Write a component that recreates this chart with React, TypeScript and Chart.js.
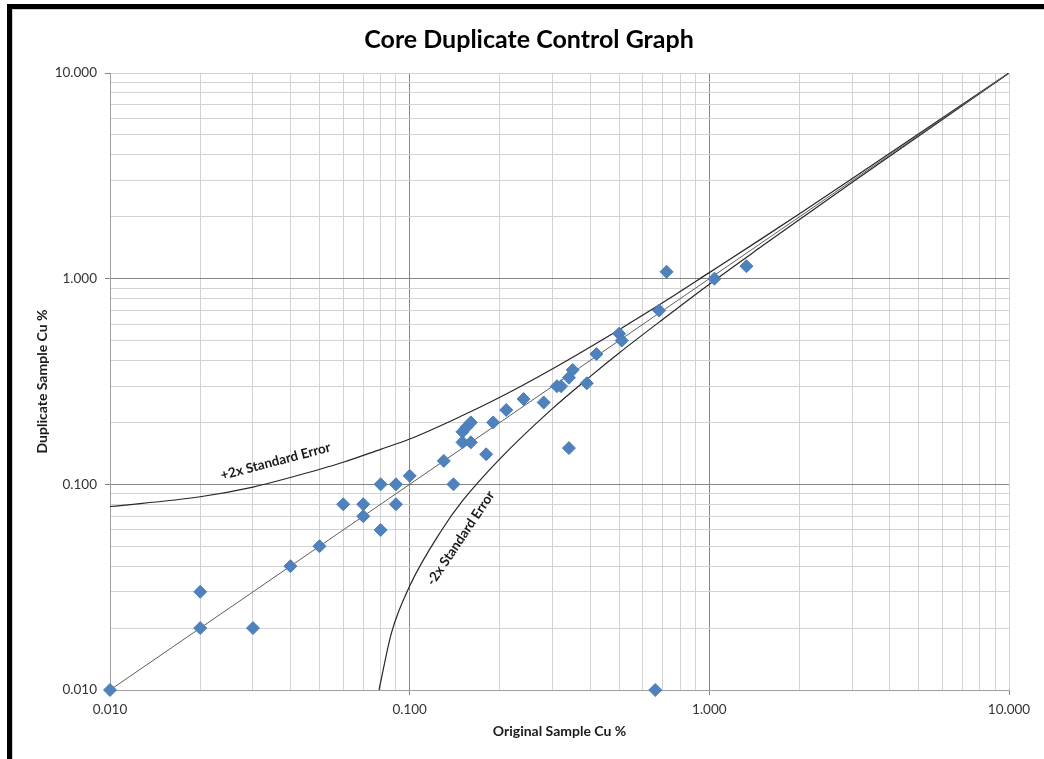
import React, { useEffect, useRef } from "react";
import { Chart, registerables } from "chart.js";

Chart.register(...registerables);

// Scatter data: original vs duplicate Cu %
const originalCu = [0.01, 0.02, 0.02, 0.03, 0.04, 0.05, 0.06, 0.07, 0.07, 0.08, 0.08, 0.09, 0.09, 0.10, 0.13, 0.14, 0.15, 0.155, 0.16, 0.15, 0.16, 0.18, 0.19, 0.21, 0.24, 0.28, 0.31, 0.32, 0.34, 0.35, 0.34, 0.39, 0.42, 0.50, 0.51, 0.68, 0.72, 1.04, 1.33, 0.66];
const duplicateCu = [0.01, 0.03, 0.02, 0.02, 0.04, 0.05, 0.08, 0.08, 0.07, 0.10, 0.06, 0.10, 0.08, 0.11, 0.13, 0.10, 0.18, 0.19, 0.20, 0.16, 0.16, 0.14, 0.20, 0.23, 0.26, 0.25, 0.30, 0.30, 0.33, 0.36, 0.15, 0.31, 0.43, 0.54, 0.50, 0.70, 1.08, 1.00, 1.15, 0.01];

// 1:1 line
const oneToOneX = [0.01, 10];
const oneToOneY = [0.01, 10];

// +2x standard error curve
const upperX = [0.01, 0.02, 0.03, 0.04, 0.06, 0.08, 0.1, 0.15, 0.2, 0.3, 0.5, 0.7, 1.0, 1.5, 2.0, 3.0, 5.0, 10];
const upperY = [0.078, 0.087, 0.097, 0.108, 0.128, 0.148, 0.166, 0.216, 0.265, 0.365, 0.565, 0.765, 1.07, 1.57, 2.07, 3.07, 5.07, 10];

// -2x standard error curve
const lowerX = [0.079, 0.087, 0.1, 0.128, 0.15, 0.2, 0.3, 0.4, 0.5, 0.7, 1.0, 1.5, 2.0, 3.0, 5.0, 10];
const lowerY = [0.01, 0.019, 0.032, 0.06, 0.083, 0.133, 0.234, 0.334, 0.435, 0.635, 0.94, 1.44, 1.94, 2.94, 4.94, 10];

// Grid / tick values (log axis)
const gridValues = [
  0.01, 0.02, 0.03, 0.04, 0.05, 0.06, 0.07, 0.08, 0.09,
  0.1, 0.2, 0.3, 0.4, 0.5, 0.6, 0.7, 0.8, 0.9,
  1, 2, 3, 4, 5, 6, 7, 8, 9,
  10,
];
const labelValues = [0.01, 0.1, 1, 10];

const chartTitle = "Core Duplicate Control Graph";
const xTitle = "Original Sample Cu %";
const yTitle = "Duplicate Sample Cu %";

const annotations = [
  { text: "+2x Standard Error", x: 0.0357, y: 0.1293, angle: -14.8 },
  { text: "-2x Standard Error", x: 0.148, y: 0.0547, angle: -56 },
];

const FONT = "Lato, 'Open Sans', sans-serif";

const toXY = (xs: number[], ys: number[]) => xs.map((x, i) => ({ x, y: ys[i] }));

const isMajor = (v: number) => labelValues.includes(v);

export default function App() {
  const ref = useRef<HTMLCanvasElement | null>(null);

  useEffect(() => {
    if (!ref.current) return;

    const overlay = {
      id: "overlay",
      afterDatasetsDraw(chart: any) {
        const { ctx, scales } = chart;
        ctx.save();
        ctx.fillStyle = "#1a1a1a";
        ctx.font = `bold 13.5px ${FONT}`;
        ctx.textAlign = "center";
        ctx.textBaseline = "middle";
        for (const a of annotations) {
          const px = scales.x.getPixelForValue(a.x);
          const py = scales.y.getPixelForValue(a.y);
          ctx.save();
          ctx.translate(px, py);
          ctx.rotate((a.angle * Math.PI) / 180);
          ctx.fillText(a.text, 0, 0);
          ctx.restore();
        }
        ctx.fillStyle = "#000";
        ctx.font = `bold 25px ${FONT}`;
        ctx.fillText(chartTitle, 529, 40);
        ctx.restore();
      },
    };

    const gridColor = (ctx: any) => {
      const v = ctx.tick ? ctx.tick.value : null;
      if (v === 0.1 || v === 1) return "#878787";
      return "#d3d3d3";
    };
    const tickColor = (ctx: any) => {
      const v = ctx.tick ? ctx.tick.value : null;
      return v !== null && isMajor(v) ? "#878787" : "rgba(0,0,0,0)";
    };

    const axisCommon = (title: string) => ({
      type: "logarithmic" as const,
      min: 0.01,
      max: 10,
      afterBuildTicks: (scale: any) => {
        scale.ticks = gridValues.map((v) => ({ value: v }));
      },
      grid: {
        color: gridColor,
        tickColor: tickColor,
        tickLength: 5,
        lineWidth: 1,
      },
      border: { display: true, color: "#a0a0a0" },
      ticks: {
        autoSkip: false,
        maxRotation: 0,
        minRotation: 0,
        color: "#333333",
        font: { family: FONT, size: 13.5 },
        callback: (value: any) => (isMajor(Number(value)) ? Number(value).toFixed(3) : ""),
      },
      title: {
        display: true,
        text: title,
        color: "#1a1a1a",
        font: { family: FONT, size: 14, weight: "bold" as const },
      },
    });

    const xAxis: any = axisCommon(xTitle);
    xAxis.position = "bottom";
    xAxis.ticks.padding = 7;
    xAxis.title.padding = { top: 0, bottom: 9 };
    xAxis.afterFit = (scale: any) => {
      scale.height = 59;
    };

    const yAxis: any = axisCommon(yTitle);
    yAxis.position = "left";
    yAxis.ticks.padding = 8;
    yAxis.title.padding = { top: 20, bottom: 0 };
    yAxis.afterFit = (scale: any) => {
      scale.width = 96;
    };

    const chart = new Chart(ref.current, {
      type: "scatter",
      data: {
        datasets: [
          {
            label: "Samples",
            data: toXY(originalCu, duplicateCu),
            pointStyle: "rectRot",
            pointRadius: 6.5,
            pointBackgroundColor: "#4F81BD",
            pointBorderColor: "#4A7EBB",
            pointBorderWidth: 1,
            showLine: false,
            clip: false as any,
            order: 0,
          },
          {
            label: "1:1",
            data: toXY(oneToOneX, oneToOneY),
            showLine: true,
            borderColor: "#5e5e5e",
            borderWidth: 1,
            pointRadius: 0,
            order: 1,
          },
          {
            label: "+2x Standard Error",
            data: toXY(upperX, upperY),
            showLine: true,
            borderColor: "#262626",
            borderWidth: 1.2,
            pointRadius: 0,
            cubicInterpolationMode: "monotone",
            order: 2,
          },
          {
            label: "-2x Standard Error",
            data: toXY(lowerX, lowerY),
            showLine: true,
            borderColor: "#262626",
            borderWidth: 1.2,
            pointRadius: 0,
            cubicInterpolationMode: "monotone",
            order: 3,
          },
        ],
      },
      options: {
        animation: false,
        responsive: false,
        maintainAspectRatio: false,
        layout: { padding: { left: 14, right: 35, top: 73, bottom: 10 } },
        plugins: {
          legend: { display: false },
          tooltip: { enabled: false },
          title: { display: false },
        },
        scales: { x: xAxis, y: yAxis },
      },
      plugins: [overlay],
    });

    return () => chart.destroy();
  }, []);

  return (
    <div style={{ position: "fixed", left: 0, top: 0, width: 1044, height: 759, background: "#fff", overflow: "hidden" }}>
      <canvas ref={ref} width={1044} height={759} style={{ position: "absolute", left: 0, top: 0, width: 1044, height: 759 }} />
      <div style={{ position: "absolute", left: 7, top: 4, width: 5, height: 755, background: "#000" }} />
      <div style={{ position: "absolute", left: 7, top: 4, width: 1037, height: 5, background: "#000" }} />
      <div style={{ position: "absolute", left: 12, top: 9, width: 1, height: 750, background: "#d0d0d0" }} />
      <div style={{ position: "absolute", left: 12, top: 9, width: 1032, height: 1, background: "#d0d0d0" }} />
    </div>
  );
}
